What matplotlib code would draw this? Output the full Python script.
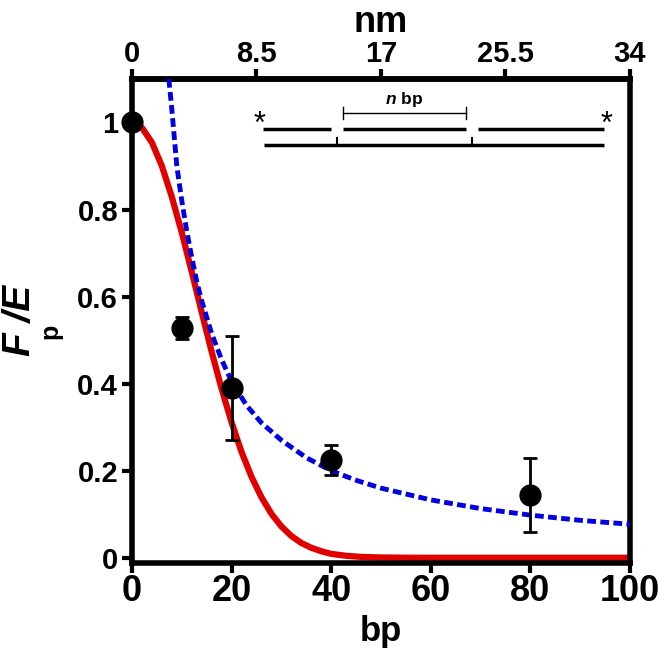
import matplotlib
matplotlib.use("Agg")
import matplotlib.pyplot as plt

plt.rcParams['font.family'] = ['Liberation Sans', 'DejaVu Sans']
plt.rcParams['font.weight'] = 'bold'
plt.rcParams['mathtext.fontset'] = 'custom'
plt.rcParams['mathtext.rm'] = 'Liberation Sans:bold'
plt.rcParams['mathtext.it'] = 'Liberation Sans:italic:bold'
plt.rcParams['mathtext.bf'] = 'Liberation Sans:bold'

# measured points (bp, Fp/E, error)
bp = [0, 10, 20, 40, 80]
fe = [1.0, 0.527, 0.39, 0.225, 0.145]
fe_err = [0.0, 0.025, 0.12, 0.035, 0.085]

# red model curve
red_x = [0, 2, 4, 6, 8, 10, 12, 14, 16, 18, 20, 22, 24, 26, 28, 30, 32, 34,
         36, 38, 40, 43, 46, 50, 55, 60, 100]
red_y = [1.0, 0.988, 0.954, 0.900, 0.829, 0.747, 0.657, 0.564, 0.473, 0.388,
         0.311, 0.243, 0.186, 0.139, 0.101, 0.072, 0.050, 0.034, 0.023, 0.015,
         0.009, 0.0045, 0.002, 0.0007, 0.0001, 0.0, 0.0]

# blue dashed model curve
blue_x = [7.4, 8, 9, 10, 11, 12, 13, 14, 16, 18, 20, 23, 26, 30, 35, 40, 45,
          50, 60, 70, 80, 90, 100]
blue_y = [1.10, 1.03, 0.90, 0.82, 0.75, 0.69, 0.635, 0.59, 0.515, 0.455, 0.405,
          0.35, 0.31, 0.27, 0.23, 0.20, 0.178, 0.16, 0.133, 0.113, 0.098, 0.086,
          0.077]

x_ticks = [0, 20, 40, 60, 80, 100]
y_ticks = [0, 0.2, 0.4, 0.6, 0.8, 1.0]
y_labels = ['0', '0.2', '0.4', '0.6', '0.8', '1']
nm_ticks = [0, 8.5, 17, 25.5, 34]
nm_labels = ['0', '8.5', '17', '25.5', '34']

fig = plt.figure(figsize=(6.61, 6.58), dpi=100)
ax = fig.add_axes([0.1997, 0.1444, 0.7533, 0.7356])

ax.plot(red_x, red_y, color='#e00000', lw=4.5, solid_capstyle='butt', zorder=2)
ax.plot(blue_x, blue_y, color='#0000e0', lw=3.5, dashes=(1.8, 0.9), zorder=3)
ax.errorbar(bp, fe, yerr=fe_err, fmt='o', color='black', ms=15, elinewidth=2,
            capsize=5, capthick=2, zorder=4, clip_on=False)

ax.set_xlim(0, 100)
ax.set_ylim(-0.012, 1.10)
ax.set_xticks(x_ticks)
ax.set_yticks(y_ticks)
ax.set_yticklabels(y_labels)
ax.tick_params(axis='both', direction='out', length=7, width=3)
ax.tick_params(axis='x', labelsize=26, pad=1)
ax.tick_params(axis='y', labelsize=21, pad=3)
for s in ax.spines.values():
    s.set_linewidth(4)

ax.set_xlabel('bp', fontsize=25, fontweight='bold', labelpad=4.5)

top = ax.secondary_xaxis('top', functions=(lambda x: x * 0.34, lambda x: x / 0.34))
top.set_xticks(nm_ticks)
top.set_xticklabels(nm_labels)
top.tick_params(direction='out', length=7, width=3, labelsize=21, pad=1)
top.spines['top'].set_linewidth(4)
top.set_xlabel('nm', fontsize=26, fontweight='bold', labelpad=6)

# y label: "F /E" with the p subscript set apart, as in the original
fig.text(20 / 661, 1 - 320 / 658, 'F /E', rotation=90, fontsize=28,
         fontstyle='italic', fontweight='bold', ha='center', va='center')
fig.text(50 / 661, 1 - 331 / 658, 'p', rotation=90, fontsize=18,
         fontweight='bold', ha='center', va='center')

# DNA schematic inset
k = dict(color='black', lw=2.5, solid_capstyle='butt', zorder=3)
ax.plot([26.3, 40.0], [0.984, 0.984], **k)
ax.plot([42.4, 67.1], [0.984, 0.984], **k)
ax.plot([69.5, 94.8], [0.984, 0.984], **k)
ax.plot([26.5, 94.8], [0.949, 0.949], **k)
ax.plot([41.2, 41.2], [0.949, 0.964], color='black', lw=1.5)
ax.plot([68.3, 68.3], [0.949, 0.964], color='black', lw=1.5)
ax.plot([42.4, 67.1], [1.021, 1.021], color='black', lw=1)
ax.plot([42.4, 42.4], [1.007, 1.035], color='black', lw=1)
ax.plot([67.1, 67.1], [1.007, 1.035], color='black', lw=1)
ax.text(54.6, 1.031, r'$n$ bp', fontsize=12.5, ha='center', va='bottom')
ax.text(25.6, 0.96, '*', fontsize=22, ha='center', va='bottom', fontweight='normal')
ax.text(95.2, 0.96, '*', fontsize=22, ha='center', va='bottom', fontweight='normal')

fig.savefig('out.png', dpi=100)
